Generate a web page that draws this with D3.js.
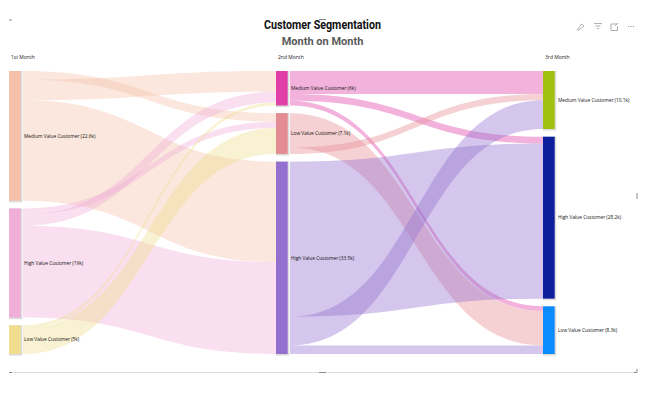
<!DOCTYPE html>
<html lang="en">
<head>
<meta charset="utf-8">
<script src="https://d3js.org/d3.v7.min.js"></script>
<style>
    html, body { margin: 0; padding: 0; background: #fff; }
    svg { display: block; }
    text { font-family: "Open Sans", sans-serif; }
</style>
</head>
<body>
<script>
    // values, in thousands of customers
    const months = ["1st Month", "2nd Month", "3rd Month"];
    const firstSegments = ["Medium", "High", "Low"];
    const secondSegments = ["Medium", "Low", "High"];
    const thirdSegments = ["Medium", "High", "Low"];
    const firstTotals = [22.6, 19, 5];
    const secondTotals = [6, 7.1, 33.5];
    const thirdTotals = [10.1, 28.2, 8.3];
    const firstColors = ["#F5C2A9", "#F0AED8", "#F0DE8E"];
    const secondColors = ["#E03FA8", "#E58B93", "#9370D0"];
    const thirdColors = ["#A2C00F", "#0D1F9A", "#0A8CFF"];

    // source, target, value - listed in the order they leave the source bar
    const firstFlows = [
        ["Medium", "Low", 1.5], ["Medium", "Medium", 3.6], ["Medium", "High", 17.5],
        ["High", "Low", 1.1], ["High", "Medium", 1.9], ["High", "High", 16],
        ["Low", "Medium", 0.5], ["Low", "Low", 4.5]
    ];
    const secondFlows = [
        ["Medium", "Medium", 4], ["Medium", "High", 1.2], ["Medium", "Low", 0.8],
        ["Low", "Low", 6], ["Low", "Medium", 1.1],
        ["High", "High", 27], ["High", "Medium", 5], ["High", "Low", 1.5]
    ];

    const width = 650, height = 396;
    const topY = 71, gap = 7.7, barWidth = 11.7, linkPad = 2.3;

    const svg = d3.select("body").append("svg")
        .attr("width", width)
        .attr("height", height);

    const x = d3.scaleLinear().domain([0, 2]).range([9, 543]);
    const y = d3.scaleLinear().domain([0, 46.6]).range([0, 267.6]);

    // stack a column of bars
    function layout(names, totals, colors, col) {
        let pos = topY;
        return names.map(function (name, i) {
            const n = { name: name, value: totals[i], color: colors[i], col: col,
                y0: pos, y1: pos + y(totals[i]), sy: pos, ty: pos };
            pos = n.y1 + gap;
            return n;
        });
    }

    const columns = [
        layout(firstSegments, firstTotals, firstColors, 0),
        layout(secondSegments, secondTotals, secondColors, 1),
        layout(thirdSegments, thirdTotals, thirdColors, 2)
    ];

    function find(col, name) {
        return columns[col].find(function (n) { return n.name === name; });
    }

    function ribbons(flows, col) {
        const out = flows.map(function (f) {
            const s = find(col, f[0]), t = find(col + 1, f[1]);
            const h = y(f[2]);
            const link = { color: s.color, h: h, sy: s.sy, x0: x(col) + barWidth + linkPad, x1: x(col + 1), t: t, src: f[0] };
            s.sy += h;
            return link;
        });
        // incoming flows stack in the order of the source bars
        columns[col].forEach(function (s) {
            out.filter(function (l) { return l.src === s.name; }).forEach(function (l) {
                l.ty = l.t.ty;
                l.t.ty += l.h;
            });
        });
        return out;
    }

    function ribbonPath(l) {
        const m = (l.x0 + l.x1) / 2;
        const p = d3.path();
        p.moveTo(l.x0, l.sy);
        p.bezierCurveTo(m, l.sy, m, l.ty, l.x1, l.ty);
        p.lineTo(l.x1, l.ty + l.h);
        p.bezierCurveTo(m, l.ty + l.h, m, l.sy + l.h, l.x0, l.sy + l.h);
        p.closePath();
        return p.toString();
    }

    const links = ribbons(firstFlows, 0).concat(ribbons(secondFlows, 1));

    svg.append("g").selectAll("path")
        .data(links)
        .enter()
        .append("path")
        .attr("d", ribbonPath)
        .attr("fill", function (d) { return d.color; })
        .attr("fill-opacity", 0.4);

    const nodes = columns.flat();

    // grey shadow behind each bar
    svg.append("g").selectAll("rect")
        .data(nodes)
        .enter()
        .append("rect")
        .attr("x", function (d) { return x(d.col); })
        .attr("y", function (d) { return d.y0; })
        .attr("width", barWidth + 1.6)
        .attr("height", function (d) { return d.y1 - d.y0 + 1.6; })
        .attr("fill", "#dcdcdc");

    svg.append("g").selectAll("rect")
        .data(nodes)
        .enter()
        .append("rect")
        .attr("x", function (d) { return x(d.col); })
        .attr("y", function (d) { return d.y0; })
        .attr("width", barWidth)
        .attr("height", function (d) { return d.y1 - d.y0; })
        .attr("fill", function (d) { return d.color; });

    svg.append("g").selectAll("text")
        .data(nodes)
        .enter()
        .append("text")
        .attr("x", function (d) { return x(d.col) + 15; })
        .attr("y", function (d) { return (d.y0 + d.y1) / 2 + 1.8; })
        .attr("font-size", 4.8)
        .attr("fill", "#111")
        .text(function (d) { return d.name + " Value Customer (" + d.value + "k)"; });

    svg.append("g").selectAll("text")
        .data(months)
        .enter()
        .append("text")
        .attr("x", function (d, i) { return x(i) + 2; })
        .attr("y", 59)
        .attr("font-size", 5)
        .attr("fill", "#222")
        .text(function (d) { return d; });

    svg.append("text")
        .attr("x", 322.5).attr("y", 29)
        .attr("text-anchor", "middle")
        .attr("font-size", 12)
        .attr("font-weight", 700)
        .attr("textLength", 117)
        .attr("lengthAdjust", "spacingAndGlyphs")
        .style("font-family", "Roboto, sans-serif")
        .attr("fill", "#111")
        .text("Customer Segmentation");

    svg.append("text")
        .attr("x", 322.5).attr("y", 45)
        .attr("text-anchor", "middle")
        .attr("font-size", 11)
        .attr("font-weight", 700)
        .style("font-family", "Roboto, sans-serif")
        .attr("fill", "#5a5a5a")
        .text("Month on Month");

    // visual frame bits
    const grey = "#dcdcdc", dark = "#8a8a8a";
    const frame = svg.append("g").attr("fill", "none").attr("stroke-width", 1);
    frame.append("path").attr("d", "M9 372.5H637").attr("stroke", grey);
    frame.append("path").attr("d", "M9 372.5H12M319 372.5H326M634 372.5H637V369M637 193V199M9 20H12M319 19.5H326").attr("stroke", dark);

    // header icons
    const icons = svg.append("g").attr("fill", "none").attr("stroke", "#9a9a9a").attr("stroke-width", 0.8);
    icons.append("path").attr("d", "M577 30L579 27.5L581.5 24L584 26L581 28.5L578.5 30Z");
    icons.append("path").attr("d", "M594 23.5H602M595.5 26H600.5M597 28.5H599");
    icons.append("path").attr("d", "M617 24H611V30.5H617.5V26M615 26L618 23");
    icons.append("path").attr("d", "M628 26.5H629.2M630.4 26.5H631.6M632.8 26.5H634").attr("stroke-width", 1.2);
</script>
</body>
</html>
